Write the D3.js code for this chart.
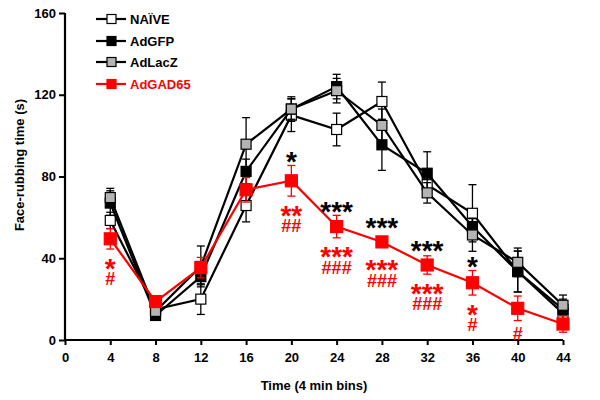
<!DOCTYPE html>
<html>
<head>
<meta charset="utf-8">
<script src="https://cdn.jsdelivr.net/npm/d3@7"></script>
<style>
  body { margin: 0; background: #fff; }
  svg { display: block; font-family: "Liberation Sans", Arial, sans-serif; }
</style>
</head>
<body>
<svg id="chart" width="600" height="400"></svg>
<script>
// ---- data ----
const times = [4, 8, 12, 16, 20, 24, 28, 32, 36, 40, 44];
const xTicks = [0, 4, 8, 12, 16, 20, 24, 28, 32, 36, 40, 44];
const yTicks = [0, 40, 80, 120, 160];
const seriesNames = ["NAÏVE", "AdGFP", "AdLacZ", "AdGAD65"];

const naive      = [58.5, 15, 20, 65.8, 110, 103, 116.7, 76, 62, 33.5, 13];
const naiveErr   = [4, 3, 7.5, 8, 8, 8, 9.5, 5, 14, 10, 3];
const adgfp      = [67, 12, 31, 82.5, 113, 124, 95.5, 81.6, 55.5, 33.5, 15];
const adgfpErr   = [6, 2, 4, 6, 5, 6, 12.5, 10.5, 4, 10, 5];
const adlacz     = [69.7, 14, 36, 95.8, 113, 122, 105, 72, 51.4, 38, 17];
const adlaczErr  = [4.5, 2, 10, 13, 6, 6, 8, 5, 8, 7, 5];
const adgad65    = [49.5, 18.8, 35.4, 73.5, 77.9, 55.5, 48, 36.7, 28, 15.5, 7.8];
const adgad65Err = [5, 2, 5, 6, 7.5, 5.5, 2, 4.5, 6, 6, 4];

// significance labels (per time bin)
const sigControl = ["", "", "", "", "*", "***", "***", "***", "*", "", ""];
const sigStar    = ["*", "", "", "", "**", "***", "***", "***", "*", "", ""];
const sigHash    = ["#", "", "", "", "##", "###", "###", "###", "#", "#", ""];

// ---- layout ----
const svg = d3.select("#chart");
const x = d3.scaleLinear().domain([0, 44]).range([65, 563]);
const y = d3.scaleLinear().domain([0, 160]).range([340, 13]);

const series = [
  {name: seriesNames[0], vals: naive,   err: naiveErr,   fill: "#ffffff", stroke: "#000", line: "#000"},
  {name: seriesNames[1], vals: adgfp,   err: adgfpErr,   fill: "#000000", stroke: "#000", line: "#000"},
  {name: seriesNames[2], vals: adlacz,  err: adlaczErr,  fill: "#b4b4b4", stroke: "#000", line: "#000"},
  {name: seriesNames[3], vals: adgad65, err: adgad65Err, fill: "#ff0000", stroke: "#ff0000", line: "#ff0000"}
];

// axes
const yAxis = svg.append("g").attr("transform", "translate(65,0)")
  .call(d3.axisLeft(y).tickValues(yTicks).tickSize(6).tickPadding(3).tickFormat(d3.format("d")));
const xAxis = svg.append("g").attr("transform", "translate(0,340)")
  .call(d3.axisBottom(x).tickValues(xTicks).tickSize(5).tickPadding(8).tickFormat(d3.format("d")));
[yAxis, xAxis].forEach(a => {
  a.select(".domain").attr("stroke", "#000").attr("stroke-width", 2.2);
  a.selectAll(".tick line").attr("stroke", "#000").attr("stroke-width", 2);
  a.selectAll(".tick text").attr("fill", "#000").style("font-size", "13px").style("font-weight", "bold")
    .style("font-family", "'Liberation Sans', Arial, sans-serif");
});
xAxis.select(".domain").attr("d", "M65,0H563");
yAxis.select(".domain").attr("d", "M0,13V341");

// axis titles
svg.append("text").attr("x", 314).attr("y", 390).attr("text-anchor", "middle")
  .style("font-size", "13px").style("font-weight", "bold").text("Time (4 min bins)");
svg.append("text").attr("transform", "translate(24,165) rotate(-90)").attr("text-anchor", "middle")
  .style("font-size", "13px").style("font-weight", "bold").text("Face-rubbing time (s)");

// series
const lineGen = d3.line().x((d, i) => x(times[i])).y(d => y(d));
series.forEach(s => {
  const g = svg.append("g");
  g.append("path").datum(s.vals).attr("d", lineGen).attr("fill", "none")
    .attr("stroke", s.line).attr("stroke-width", 2.2);
  // error bars
  const eb = g.selectAll(".eb").data(s.vals).enter().append("g");
  eb.append("line").attr("x1", (d, i) => x(times[i])).attr("x2", (d, i) => x(times[i]))
    .attr("y1", (d, i) => y(d + s.err[i])).attr("y2", (d, i) => y(d - s.err[i]))
    .attr("stroke", s.line).attr("stroke-width", 1.3);
  [1, -1].forEach(sign => {
    eb.append("line").attr("x1", (d, i) => x(times[i]) - 4).attr("x2", (d, i) => x(times[i]) + 4)
      .attr("y1", (d, i) => y(d + sign * s.err[i])).attr("y2", (d, i) => y(d + sign * s.err[i]))
      .attr("stroke", s.line).attr("stroke-width", 1.3);
  });
  const sz = s.name === "AdGAD65" ? 12 : 10;
  g.selectAll(".m").data(s.vals).enter().append("rect")
    .attr("x", (d, i) => x(times[i]) - sz / 2).attr("y", d => y(d) - sz / 2)
    .attr("width", sz).attr("height", sz)
    .attr("fill", s.fill).attr("stroke", s.stroke).attr("stroke-width", 1.2);
});

// significance annotations
const red = series[3];
times.forEach((t, i) => {
  const cx = x(t);
  const cy = y(red.vals[i]);
  const ePx = y(0) - y(red.err[i]);
  if (sigControl[i]) {
    const c = cy - Math.max(ePx + 10, 20);
    svg.append("text").attr("x", cx).attr("y", c + 15.5).attr("text-anchor", "middle")
      .style("font-size", "28px").style("font-weight", "bold").attr("fill", "#000").text(sigControl[i]);
  }
  const c = cy + Math.max(ePx + 13, 22);
  if (sigStar[i] || sigHash[i]) {
    const txt = svg.append("text").attr("text-anchor", "middle").attr("fill", "#ff0000")
      .style("font-weight", "bold");
    if (sigStar[i]) {
      txt.append("tspan").attr("x", cx).attr("y", c + 15.5).style("font-size", "28px").text(sigStar[i]);
      if (sigHash[i]) {
        txt.append("tspan").attr("x", cx).attr("y", c + 17 + 6.3).style("font-size", "18px").text(sigHash[i]);
      }
    } else {
      txt.append("tspan").attr("x", cx).attr("y", c + 6.3).style("font-size", "18px").text(sigHash[i]);
    }
  }
});

// legend
const legY = [19, 41, 62, 84];
series.forEach((s, i) => {
  const g = svg.append("g").attr("transform", `translate(0,${legY[i]})`);
  g.append("line").attr("x1", 96).attr("x2", 126).attr("y1", 0).attr("y2", 0)
    .attr("stroke", s.line).attr("stroke-width", 2.2);
  g.append("rect").attr("x", 107).attr("y", -4.5).attr("width", 9).attr("height", 9)
    .attr("fill", s.fill).attr("stroke", s.stroke).attr("stroke-width", 1.2);
  g.append("text").attr("x", 130).attr("y", 4.5)
    .style("font-size", "13px").style("font-weight", "bold")
    .attr("fill", s.name === "AdGAD65" ? "#ff0000" : "#000").text(s.name);
});
</script>
</body>
</html>
